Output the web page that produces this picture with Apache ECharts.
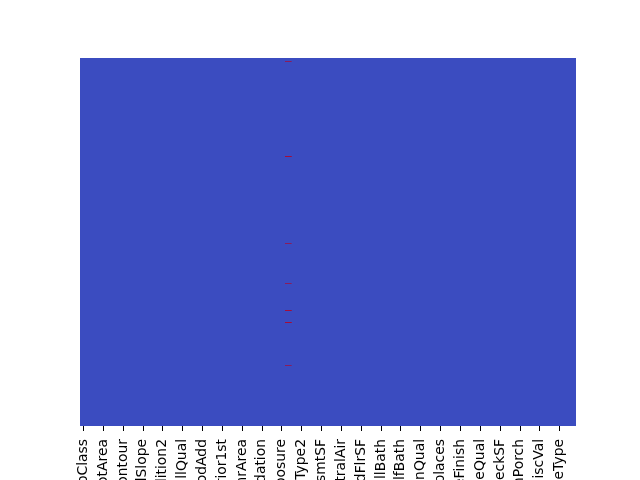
<!DOCTYPE html>
<html>
<head>
<meta charset="utf-8">
<script src="https://cdn.jsdelivr.net/npm/echarts@6/dist/echarts.min.js"></script>
<style>html,body{margin:0;padding:0;background:#fff}#c{width:640px;height:480px}</style>
</head>
<body>
<div id="c"></div>
<script>
var columns = ["MSSubClass","MSZoning","LotFrontage","LotArea","Street","LotShape","LandContour","Utilities","LotConfig","LandSlope","Neighborhood","Condition1","Condition2","BldgType","HouseStyle","OverallQual","OverallCond","YearBuilt","YearRemodAdd","RoofStyle","RoofMatl","Exterior1st","Exterior2nd","MasVnrType","MasVnrArea","ExterQual","ExterCond","Foundation","BsmtQual","BsmtCond","BsmtExposure","BsmtFinType1","BsmtFinSF1","BsmtFinType2","BsmtFinSF2","BsmtUnfSF","TotalBsmtSF","Heating","HeatingQC","CentralAir","Electrical","1stFlrSF","2ndFlrSF","LowQualFinSF","GrLivArea","BsmtFullBath","BsmtHalfBath","FullBath","HalfBath","BedroomAbvGr","KitchenAbvGr","KitchenQual","TotRmsAbvGrd","Functional","Fireplaces","GarageType","GarageYrBlt","GarageFinish","GarageCars","GarageArea","GarageQual","GarageCond","PavedDrive","WoodDeckSF","OpenPorchSF","EnclosedPorch","3SsnPorch","ScreenPorch","PoolArea","MiscVal","MoSold","YrSold","SaleType","SaleCondition","SalePrice"];
var rowCount = 1460;
// missing cells (isnull == True): column name and row index
var missingColumn = ["BsmtFinType1","BsmtFinType1","BsmtFinType1","BsmtFinType1","BsmtFinType1","BsmtFinType1","BsmtFinType1","BsmtFinType1","BsmtFinType1","BsmtFinType1"];
var missingRow = [14, 390, 391, 736, 895, 1001, 1002, 1048, 1049, 1220];

var rows = [];
for (var i = 0; i < rowCount; i++) rows.push(String(i));
var data = [];
for (var k = 0; k < missingRow.length; k++) {
  data.push([columns.indexOf(missingColumn[k]), missingRow[k], 1]);
}

var chart = echarts.init(document.getElementById('c'), null, {renderer: 'canvas'});
chart.setOption({
  animation: false,
  grid: {left: 80, right: 64, top: 58, bottom: 54, show: true, backgroundColor: '#3b4cc0', borderWidth: 0, containLabel: false, outerBoundsMode: 'none'},
  xAxis: {
    type: 'category', data: columns,
    axisLine: {show: false},
    axisTick: {show: true, length: 5, alignWithLabel: true, interval: function (i) { return i % 3 === 0; }, lineStyle: {color: '#000', width: 1}},
    axisLabel: {rotate: 90, interval: function (i) { return i % 3 === 0; }, fontFamily: 'DejaVu Sans', fontSize: 13.9, color: '#000', margin: 13},
    splitLine: {show: false}
  },
  yAxis: {
    type: 'category', data: rows, inverse: true,
    axisLine: {show: false}, axisTick: {show: false}, axisLabel: {show: false}, splitLine: {show: false}
  },
  series: [{
    type: 'custom',
    data: data,
    renderItem: function (params, api) {
      var c = api.coord([api.value(0), api.value(1)]);
      var s = api.size([1, 1]);
      var x0 = c[0] - s[0] / 2;
      var y0 = Math.floor(c[1]);
      return {
        type: 'rect',
        shape: {x: x0, y: y0, width: s[0], height: Math.max(1, s[1])},
        style: {fill: '#b40426', opacity: 0.65}
      };
    },
    emphasis: {disabled: true}
  }]
});
</script>
</body>
</html>
